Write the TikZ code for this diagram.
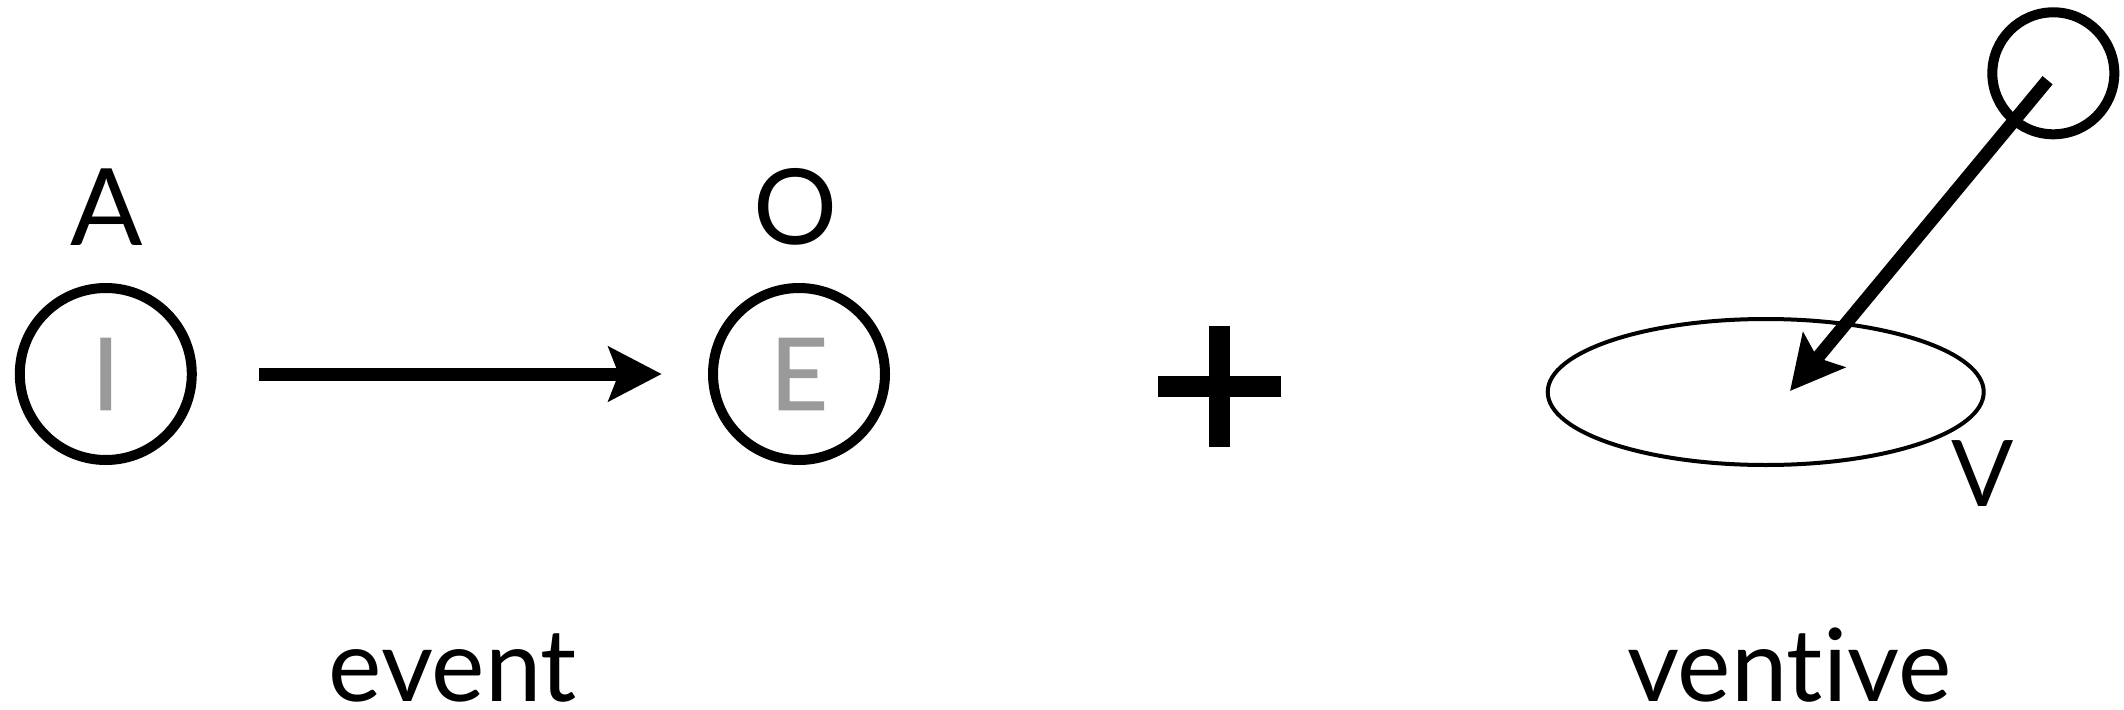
\documentclass[tikz,border=0pt]{standalone}
\usepackage{fontspec}
\setmainfont{Lato}[Ligatures={NoCommon}]
\usetikzlibrary{arrows.meta,shapes.geometric}
\definecolor{ghostgray}{HTML}{9A9A9A}
\begin{document}
\begin{tikzpicture}[x=1pt,y=-1pt,
  ring/.style={circle,draw,line width=10pt,minimum size=172pt,inner sep=0pt,outer sep=0pt},
  smallring/.style={circle,draw,line width=10pt,minimum size=122pt,inner sep=0pt,outer sep=0pt},
  flat/.style={ellipse,draw,line width=4pt,minimum width=436pt,minimum height=146pt,inner sep=0pt,outer sep=0pt},
  letter/.style={inner sep=0pt,outer sep=0pt,anchor=base},
  ghost/.style={text=ghostgray,font=\fontsize{100}{100}\selectfont\addfontfeatures{FakeBold=1.2}},
  bigarrow/.style={line width=13pt,-{Stealth[length=53pt,width=54pt,inset=10pt]}},
]
\useasboundingbox (0,0) rectangle (2124,709);
% circles
\node[ring,ghost] (I) at (105.8,374) {I};
\node[ring,ghost] (E) at (799,374) {E};
% labels above
\node[letter,font=\fontsize{107}{110}\selectfont] (A) at (106.5,245) {A};
\node[letter,font=\fontsize{105}{110}\selectfont] (O) at (796,244) {O};
% arrow I -> E
\draw[bigarrow,shorten <=67.5pt,shorten >=51.3pt] (I.east) -- (E.west);
% plus
\fill (1158,375.7) rectangle (1281,397.3);
\fill (1208.7,326) rectangle (1230.3,447);
% right part
\node[flat] (Vel) at (1765.7,392) {};
\node[smallring] (S) at (2053.3,73.3) {};
\coordinate (tip) at (1790,391);
\draw[bigarrow,shorten <=9pt] (S.center) -- (tip);
\node[letter,font=\fontsize{92}{96}\selectfont] (V) at (1983,506) {V};
% words
\node[letter,font=\fontsize{101}{104}\selectfont] (event) at (453,701.7) {event};
\node[letter,font=\fontsize{101}{104}\selectfont] (ventive) at (1789.2,701.7) {ventive};
\end{tikzpicture}
\end{document}
